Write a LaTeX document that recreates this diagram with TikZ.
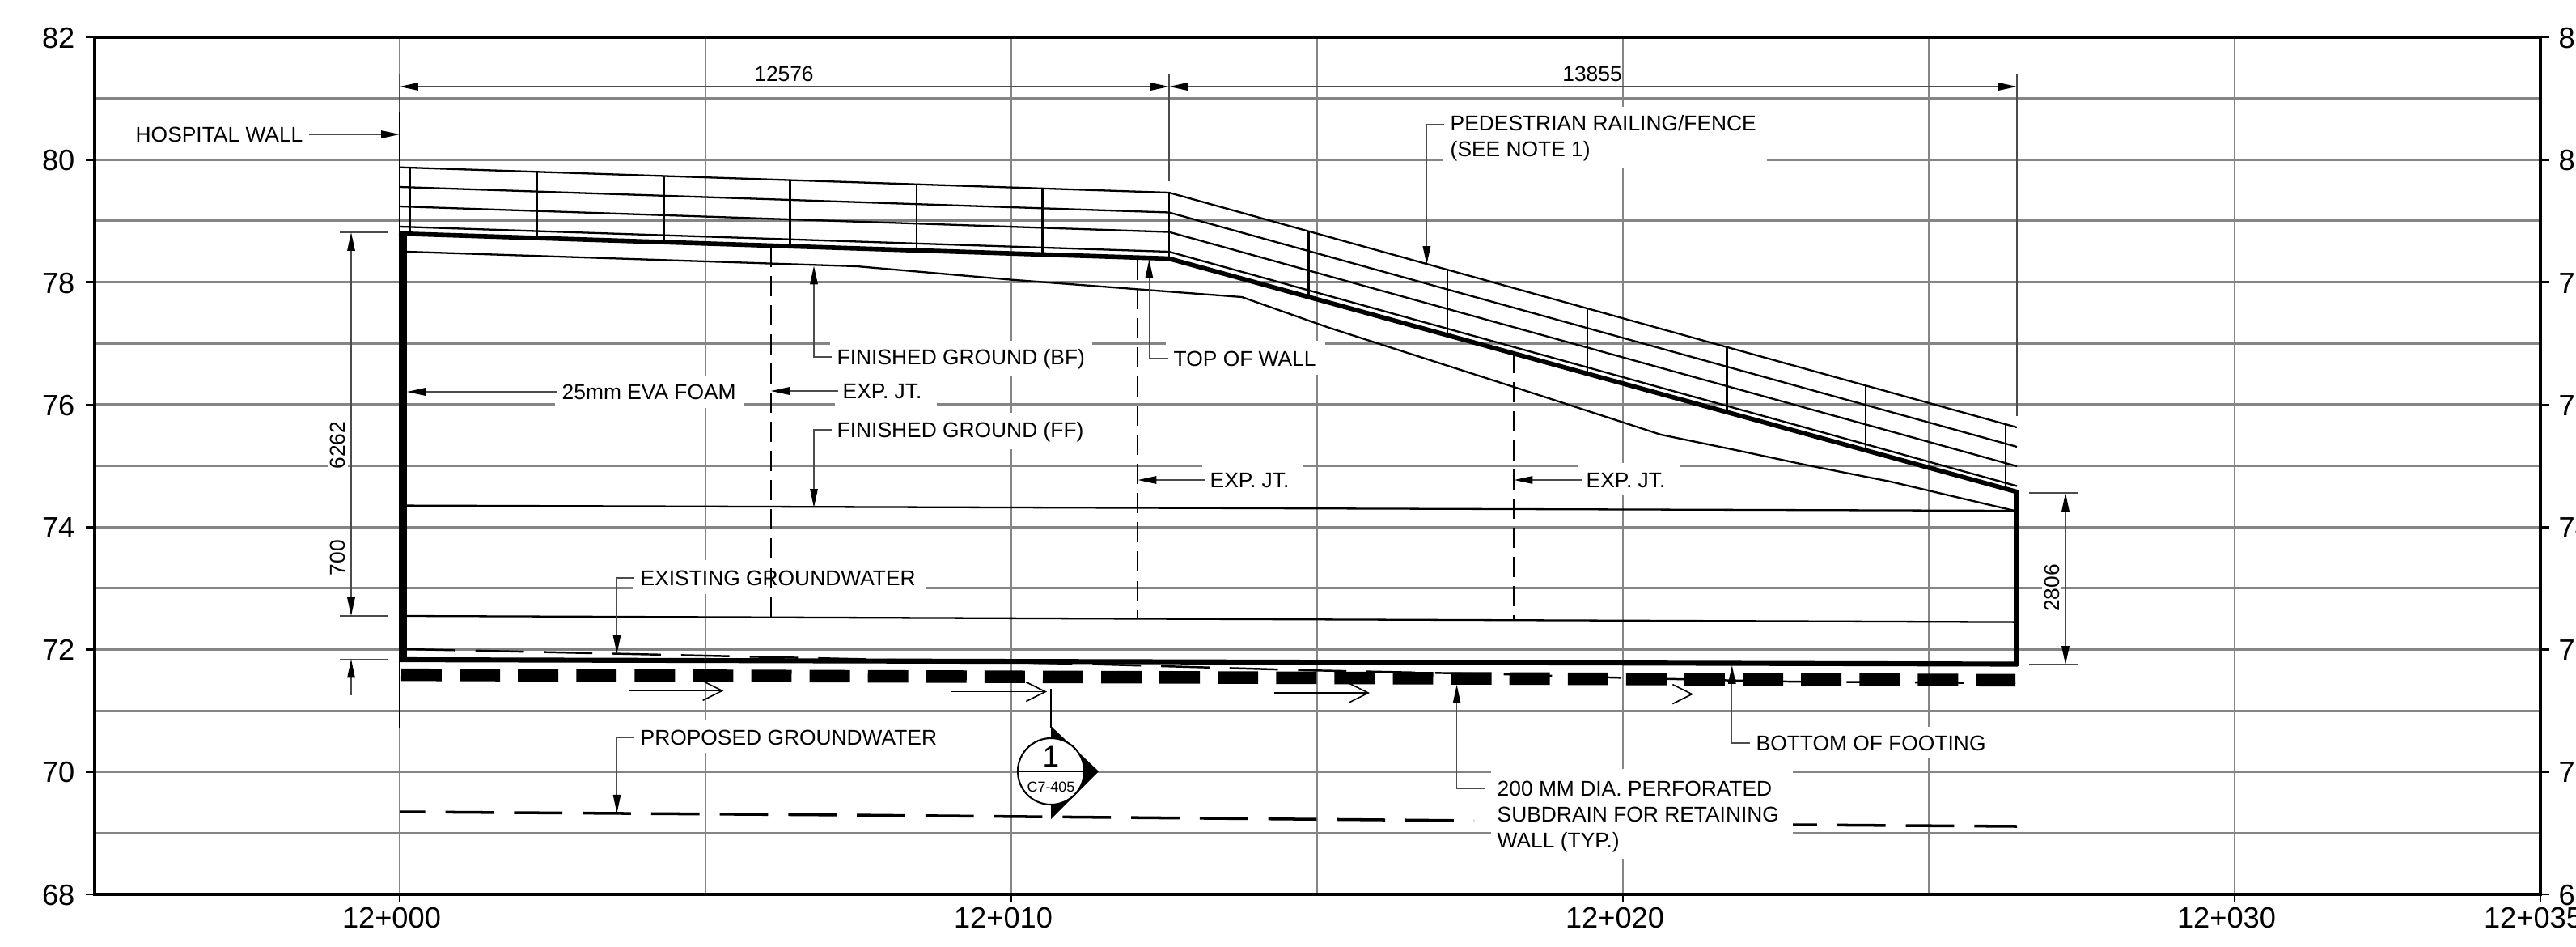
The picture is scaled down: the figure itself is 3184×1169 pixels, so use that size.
\documentclass[tikz,border=0pt]{standalone}
\usepackage{fontspec}
\setmainfont{Liberation Sans}
\usetikzlibrary{arrows.meta}
\definecolor{gridc}{gray}{0.52}
\definecolor{thinc}{gray}{0.3}
\tikzset{
  x=0.01cm,y=-0.01cm,
  hgrid/.style={gridc,line width=0.85pt},
  vgrid/.style={gridc,line width=0.5pt},
  mask/.style={white,fill=white},
  frameline/.style={black,line width=1.35pt,line join=miter},
  tick/.style={black,line width=0.75pt},
  rail/.style={black,line width=0.65pt},
  post/.style={black,line width=0.6pt},
  hair/.style={thinc,line width=0.32pt},
  tipA/.tip={Triangle[length=6.5pt,width=2.7pt,black]},
  tipO/.tip={Straight Barb[length=6.8pt,width=6.8pt,line width=0.45pt]},
  leader/.style={thinc,line width=0.38pt,-{tipA}},
  dimln/.style={thinc,line width=0.38pt,{tipA}-{tipA}},
  joint/.style={black,line width=0.6pt,dash pattern=on 7.1pt off 3.15pt},
  flow/.style={black,line width=0.45pt,-{tipO}},
  gwdash/.style={black,line width=1pt,dash pattern=on 17pt off 7.1pt},
  gwthin/.style={black,line width=0.7pt,dash pattern=on 17pt off 7.1pt},
  drain/.style={black,line width=4.4pt,dash pattern=on 14.2pt off 6.3pt},
  lbl/.style={font=\fontsize{7.5}{9.1}\selectfont,inner sep=0pt,text height=5.3pt,text depth=0pt},
  lblm/.style={font=\fontsize{7.5}{9.1}\selectfont,inner sep=0pt,align=left},
  axis/.style={font=\fontsize{10.3}{12}\selectfont,inner sep=0pt,text height=7.3pt,text depth=0pt},
}
\begin{document}
\begin{tikzpicture}
\useasboundingbox (0,0) rectangle (3184,1169);
% --- grid
\foreach \y in {121.6,197.3,272.9,348.6,424.2,499.9,575.5,651.2,726.8,802.4,878,953.7,1029.3}
  \draw[hgrid] (117,\y) -- (3140,\y);
\foreach \x in {494,872,1250,1628,2006,2384,2762}
  \draw[vgrid] (\x,46) -- (\x,1105);
% --- white masks behind labels
\fill[mask] (686,465) rectangle (920,504);
\fill[mask] (1032,470) rectangle (1158,504);
\fill[mask] (1026,421) rectangle (1350,465);
\fill[mask] (1030,510) rectangle (1350,555);
\fill[mask] (1441,421) rectangle (1638,463);
\fill[mask] (1486,572) rectangle (1611,612);
\fill[mask] (1951,572) rectangle (2076,612);
\fill[mask] (1783,132) rectangle (2184,208);
\fill[mask] (405,518) rectangle (430,581);
\fill[mask] (2524,695) rectangle (2548,757);
\fill[mask] (782,692) rectangle (1145,734);
\fill[mask] (782,890) rectangle (1170,930);
\fill[mask] (2160,898) rectangle (2465,937);
\fill[mask] (1843,950) rectangle (2216,1061);
% --- frame and ticks
\draw[frameline] (117,46) rectangle (3140,1105);
\foreach \y in {46,197.3,348.6,499.9,651.2,802.4,953.7,1105}{
  \draw[tick] (106,\y) -- (117,\y);
  \draw[tick] (3140,\y) -- (3151,\y);
}
\foreach \x in {494,1250,2006,2762,3140}
  \draw[tick] (\x,1105) -- (\x,1115);
% --- axis labels
\node[axis,anchor=east] (l82) at (93,47) {82};
\node[axis,anchor=east] (l80) at (93,198) {80};
\node[axis,anchor=east] (l78) at (93,350) {78};
\node[axis,anchor=east] (l76) at (93,501) {76};
\node[axis,anchor=east] (l74) at (93,652) {74};
\node[axis,anchor=east] (l72) at (93,803) {72};
\node[axis,anchor=east] (l70) at (93,954) {70};
\node[axis,anchor=east] (l68) at (93,1106) {68};
\node[axis,anchor=west] (r82) at (3162,47) {82};
\node[axis,anchor=west] (r80) at (3162,198) {80};
\node[axis,anchor=west] (r78) at (3162,350) {78};
\node[axis,anchor=west] (r76) at (3162,501) {76};
\node[axis,anchor=west] (r74) at (3162,652) {74};
\node[axis,anchor=west] (r72) at (3162,803) {72};
\node[axis,anchor=west] (r70) at (3162,954) {70};
\node[axis,anchor=west] (r68) at (3162,1106) {68};
\node[axis] (c0) at (484,1134) {12+000};
\node[axis] (c10) at (1240,1134) {12+010};
\node[axis] (c20) at (1996,1134) {12+020};
\node[axis] (c30) at (2752,1134) {12+030};
\node[axis] (c35) at (3131,1134) {12+035};
% --- railing
\draw[rail] (494,206.7) -- (1445,238) -- (2493,528);
\draw[rail] (494,231) -- (1445,262.5) -- (2493,552);
\draw[rail] (494,255) -- (1445,286.6) -- (2493,576);
\draw[rail] (494,280) -- (1445,311) -- (2493,600.5);
\foreach \x/\a/\b in {507/207.1/289.3,664/212.3/294.3,821/217.5/299.4,976.5/222.6/304.4,1133/227.7/309.4,1288.5/232.9/314.5,1445/238/319.5,1617.5/285.7/367,1789/333.2/414.4,1962/381/462,2134.5/428.8/509.7,2306/476.2/557,2479/524/604.7}
  \draw[post] (\x,\a) -- (\x,\b);
% --- ground lines
\draw[rail] (503,311) -- (1059,329) -- (1250,345.6) -- (1535,367) -- (1643,405) -- (1871,478) -- (2053,537) -- (2150,557) -- (2235,575) -- (2336.5,595) -- (2490,631);
\draw[rail] (503,624.6) -- (2490,631);
\draw[rail] (503,761) -- (2490,768.6);
% --- expansion joints
\draw[joint] (953,305) -- (953,762);
\draw[joint] (1406.4,321) -- (1406.4,765);
\draw[joint] (1871.5,436) -- (1871.5,765.6);
% --- groundwater
\draw[gwthin] (503,802) -- (762.5,807.6) -- (1050,814) -- (1330.6,820) -- (1611,828) -- (1857,833) -- (1990,837) -- (2130,840.4) -- (2210,842) -- (2491,844);
\draw[gwdash,dash phase=8pt] (494,1003) -- (1050,1007) -- (1822,1014);
\draw[gwdash,dash phase=8.5pt] (2216,1019) -- (2493,1021);
% --- hospital wall line
\draw[hair] (494,92) -- (494,138);
\draw[post] (494,138) -- (494,287);
\draw[post] (494,814) -- (494,900);
% --- retaining wall
\draw[black,line width=2.85pt] (498,285.5) -- (498,818);
\draw[black,line width=1.6pt] (493,288.5) -- (1445,319.5) -- (2494,608);
\draw[black,line width=1.45pt] (2492,606) -- (2492,823);
\draw[black,line width=1.75pt] (493,815) -- (2494,820.5);
% --- subdrain
\draw[drain] (496,833.6) -- (2491,840.4);
% --- flow arrows
\draw[flow] (776.6,853.4) -- (894.4,853.4);
\draw[flow] (1176,854.6) -- (1294,854.6);
\draw[flow] (1575,856) -- (1693,856);
\draw[flow] (1975,857.6) -- (2093,857.6);
% --- section marker
\draw[black,line width=0.7pt] (1299,851) -- (1299,900);
\fill[black] (1299,897) -- (1358,953) -- (1299,1012) -- cycle;
\node[circle,draw=black,fill=white,line width=0.6pt,minimum size=0.82cm,inner sep=0pt] (sec) at (1299,953) {};
\draw[black,line width=0.3pt] (sec.west) -- (sec.east);
\node[inner sep=0pt,font=\fontsize{10.5}{12}\selectfont] (secn) at (1299,935) {1};
\node[inner sep=0pt,font=\fontsize{5.1}{6}\selectfont] (secd) at (1299,972) {C7-405};
% --- dimensions
\draw[hair] (1445,92) -- (1445,224);
\draw[hair] (2493,92) -- (2493,514);
\draw[dimln] (494,107) -- (1445,107);
\draw[dimln] (1445,107) -- (2493,107);
\node[lbl] (d1) at (969,91) {12576};
\node[lbl] (d2) at (1968,91) {13855};
\draw[hair] (419.5,287) -- (479,287);
\draw[hair] (419.5,761) -- (479,761);
\draw[hair] (419.5,814.5) -- (479,814.5);
\draw[dimln] (434,287) -- (434,761);
\draw[hair,{tipA}-] (434,814.5) -- (434,859);
\node[lbl,rotate=90] (d3) at (417,550) {6262};
\node[lbl,rotate=90] (d4) at (417,689) {700};
\draw[hair] (2508,609) -- (2568,609);
\draw[hair] (2508,821) -- (2568,821);
\draw[dimln] (2553,609) -- (2553,821);
\node[lbl,rotate=90] (d5) at (2536.5,726.6) {2806};
% --- labels
\node[lbl,anchor=west] (hw) at (167,166) {HOSPITAL WALL};
\node[lbl,anchor=west] (bf) at (1034,441) {FINISHED GROUND (BF)};
\node[lbl,anchor=west] (tw) at (1450,443) {TOP OF WALL};
\node[lbl,anchor=west] (eva) at (694,484) {25mm EVA FOAM};
\node[lbl,anchor=west] (ej1) at (1041,483) {EXP. JT.};
\node[lbl,anchor=west] (ff) at (1034,531) {FINISHED GROUND (FF)};
\node[lbl,anchor=west] (ej2) at (1495,593) {EXP. JT.};
\node[lbl,anchor=west] (ej3) at (1960,593) {EXP. JT.};
\node[lblm,anchor=north west] (ped) at (1792,142) {PEDESTRIAN RAILING/FENCE\\(SEE NOTE 1)};
\node[lbl,anchor=west] (eg) at (791,714) {EXISTING GROUNDWATER};
\node[lbl,anchor=west] (pg) at (791,911) {PROPOSED GROUNDWATER};
\node[lbl,anchor=west] (bof) at (2170,918) {BOTTOM OF FOOTING};
\node[lblm,anchor=north west] (sd) at (1850,964) {200 MM DIA. PERFORATED\\SUBDRAIN FOR RETAINING\\WALL (TYP.)};
% --- leaders
\coordinate (hwt) at (494,166);
\coordinate (bft) at (1006,328.4);
\coordinate (twt) at (1420.4,320.7);
\coordinate (evat) at (503,484);
\coordinate (ej1t) at (953,483);
\coordinate (fft) at (1006,627);
\coordinate (ej2t) at (1406.4,593);
\coordinate (ej3t) at (1871.5,593);
\coordinate (pedt) at (1763.4,327);
\coordinate (egt) at (762.5,807.6);
\coordinate (pgt) at (762.5,1004.7);
\coordinate (sdt) at (1800.6,846);
\coordinate (boft) at (2140.8,822);
\draw[leader] ([xshift=2pt]hw.east) -- (hwt);
\draw[leader] ([xshift=-1.7pt]bf.west) -| (bft);
\draw[leader] ([xshift=-1.7pt]tw.west) -| (twt);
\draw[leader] ([xshift=-1.4pt]eva.west) -- (evat);
\draw[leader] ([xshift=-1.5pt]ej1.west) -- (ej1t);
\draw[leader] ([xshift=-1.7pt]ff.west) -| (fft);
\draw[leader] ([xshift=-1.8pt]ej2.west) -- (ej2t);
\draw[leader] ([xshift=-1.5pt]ej3.west) -- (ej3t);
\draw[leader] ([xshift=-2pt,yshift=-3.4pt]ped.north west) -| (pedt);
\draw[leader] ([xshift=-2pt]eg.west) -| (egt);
\draw[leader] ([xshift=-2pt]pg.west) -| (pgt);
\draw[leader] ([xshift=-4pt,yshift=-3pt]sd.north west) -| (sdt);
\draw[leader] ([xshift=-2pt]bof.west) -| (boft);
\end{tikzpicture}
\end{document}
